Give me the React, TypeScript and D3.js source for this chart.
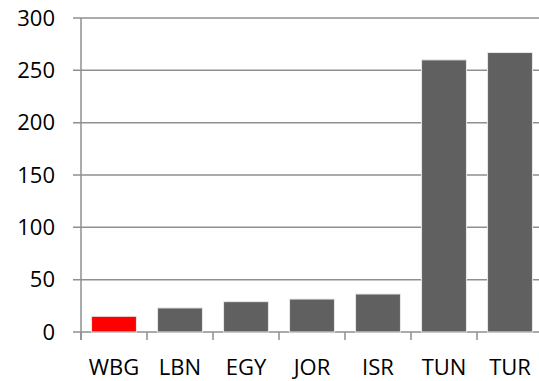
import { useRef, useEffect } from "react";
import * as d3 from "d3";

const categories = ["WBG", "LBN", "EGY", "JOR", "ISR", "TUN", "TUR"];
const values = [15, 23, 29, 31.5, 36.3, 260, 267];
const highlight = ["WBG"];
const yTicks = [0, 50, 100, 150, 200, 250, 300];

export default function App() {
  const svgRef = useRef<SVGSVGElement>(null);

  useEffect(() => {
    if (!svgRef.current) return;
    const svg = d3.select(svgRef.current);
    svg.selectAll("*").remove();

    const left = 81;
    const right = 543;
    const top = 18;
    const bottom = 332;

    const x = d3
      .scaleBand<string>()
      .domain(categories)
      .range([left, right])
      .paddingInner(0.32)
      .paddingOuter(0.16);
    const y = d3.scaleLinear().domain([0, 300]).range([bottom, top]);

    const grid = "#8f8f8f";
    const font = "'Open Sans', 'DejaVu Sans', sans-serif";

    // gridlines + y tick marks
    svg
      .append("g")
      .selectAll("line")
      .data(yTicks)
      .join("line")
      .attr("x1", left - 8)
      .attr("x2", 539)
      .attr("y1", (d) => y(d))
      .attr("y2", (d) => y(d))
      .attr("stroke", grid)
      .attr("stroke-width", 1.5);

    // y labels
    svg
      .append("g")
      .selectAll("text")
      .data(yTicks)
      .join("text")
      .attr("x", 55)
      .attr("y", (d) => y(d))
      .attr("dy", "0.35em")
      .attr("text-anchor", "end")
      .attr("font-family", font)
      .attr("font-size", 22)
      .attr("fill", "#000")
      .text((d) => d);

    // bars
    svg
      .append("g")
      .selectAll("rect")
      .data(categories)
      .join("rect")
      .attr("x", (d) => x(d)!)
      .attr("width", x.bandwidth())
      .attr("y", (_, i) => y(values[i]))
      .attr("height", (_, i) => bottom - y(values[i]))
      .attr("fill", (d) => (highlight.includes(d) ? "#ff0000" : "#606060"))
      .attr("stroke", "#e8e8e8")
      .attr("stroke-width", 1);

    // y axis line
    svg
      .append("line")
      .attr("x1", left)
      .attr("x2", left)
      .attr("y1", top)
      .attr("y2", bottom + 8)
      .attr("stroke", grid)
      .attr("stroke-width", 1.5);

    // x tick marks at band boundaries
    const step = x.step();
    const bounds = categories.map((_, i) => left + i * step);
    svg
      .append("g")
      .selectAll("line")
      .data(bounds)
      .join("line")
      .attr("x1", (d) => d)
      .attr("x2", (d) => d)
      .attr("y1", bottom)
      .attr("y2", bottom + 8)
      .attr("stroke", grid)
      .attr("stroke-width", 1.5);

    // x labels
    svg
      .append("g")
      .selectAll("text")
      .data(categories)
      .join("text")
      .attr("x", (d) => x(d)! + x.bandwidth() / 2)
      .attr("y", 367)
      .attr("dy", "0.35em")
      .attr("text-anchor", "middle")
      .attr("font-family", font)
      .attr("font-size", 22)
      .attr("fill", "#000")
      .text((d) => d);
  }, []);

  return (
    <svg
      ref={svgRef}
      width={539}
      height={381}
      style={{ position: "absolute", left: 0, top: 0, background: "#fff" }}
    />
  );
}
